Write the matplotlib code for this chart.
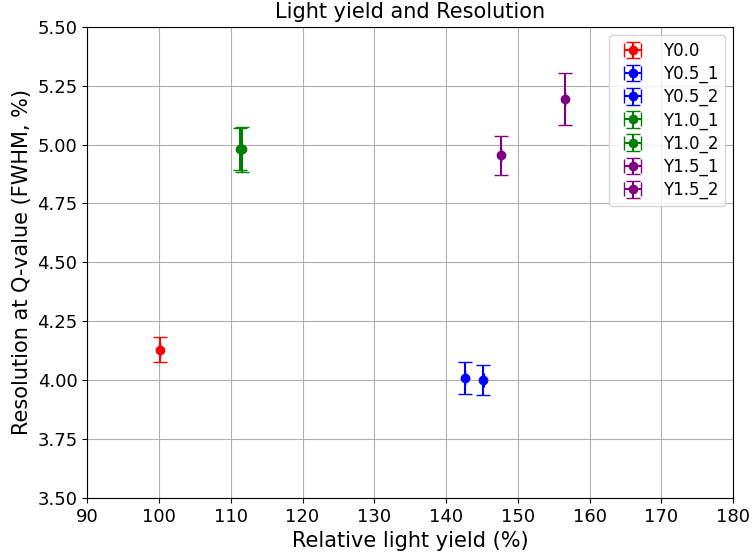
import numpy as np
import matplotlib.pyplot as plt

labels = ['Y0.0', 'Y0.5_1', 'Y0.5_2', 'Y1.0_1', 'Y1.0_2', 'Y1.5_1', 'Y1.5_2']
colors = ['red', 'blue', 'blue', 'green', 'green', 'purple', 'purple']
light_yield = [100.1, 142.6, 145.2, 111.3, 111.5, 147.6, 156.6]
light_yield_err = [0.02, 0.02, 0.02, 0.02, 0.02, 0.02, 0.02]
resolution = [4.13, 4.01, 4.00, 4.98, 4.98, 4.955, 5.195]
resolution_err = [0.055, 0.068, 0.065, 0.09, 0.095, 0.083, 0.11]

fig = plt.figure(figsize=(7.52, 5.57), dpi=100)
ax = fig.add_axes([0.116, 0.106, 0.859, 0.846])

for i in range(len(labels)):
    ax.errorbar(light_yield[i], resolution[i], xerr=light_yield_err[i], yerr=resolution_err[i],
                fmt='o', color=colors[i], capsize=5, markersize=6, elinewidth=1.5,
                label=labels[i])

ax.set_xlim(90, 180)
ax.set_ylim(3.5, 5.5)
ax.set_yticks(np.arange(3.5, 5.51, 0.25))
ax.yaxis.set_major_formatter(plt.FormatStrFormatter('%.2f'))
ax.tick_params(labelsize=13)
ax.set_xlabel('Relative light yield (%)', fontsize=15)
ax.set_ylabel('Resolution at Q-value (FWHM, %)', fontsize=15)
ax.set_title('Light yield and Resolution', fontsize=15)
ax.grid(True)
ax.legend(loc='upper right', fontsize=12, labelspacing=0.3)
plt.savefig('out.png')
